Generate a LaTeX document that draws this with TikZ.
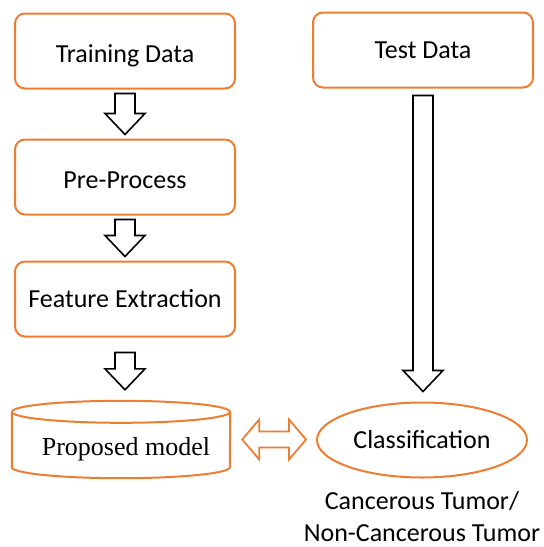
\documentclass[tikz,border=0pt]{standalone}
\usepackage{fontspec}
\setmainfont{Carlito}
\newfontfamily\modelfont{Liberation Serif}
\usepackage{tikz}
\usetikzlibrary{calc, positioning, shapes.geometric}
\definecolor{boxorange}{HTML}{ED7D31}

\newcommand{\blockarrow}[4]{%
  \draw[blockarr] let \p1=(#1.south), \p2=(#2.north) in
    (\x1-10pt,\y1-#3) -- (\x1+10pt,\y1-#3) -- (\x1+10pt,\y2+#4+21pt) -- (\x1+20pt,\y2+#4+21pt)
    -- (\x1,\y2+#4) -- (\x1-20pt,\y2+#4+21pt) -- (\x1-10pt,\y2+#4+21pt) -- cycle;}

\begin{document}
\begin{tikzpicture}[x=1pt, y=-1pt,
    every node/.style={font=\fontsize{26}{32}\selectfont},
    procbox/.style={rectangle, rounded corners=10pt, draw=boxorange, line width=2pt, fill=white, minimum width=220pt, minimum height=75pt, inner sep=0pt},
    lowtext/.style={text height=23pt, text depth=0pt},
    blockarr/.style={draw=black, line width=1.6pt, fill=white, miter limit=10},
    dblarr/.style={draw=boxorange, line width=1.8pt, fill=white},
    cyl/.style={draw=boxorange, line width=2pt}]
            \useasboundingbox (0,0) rectangle (544,547);

            \node[procbox, lowtext] at (125, 51)  (train) {Training Data};
            \node[procbox] at (423, 50)  (test)  {Test Data};
            \node[procbox, lowtext] at (125, 177) (pre)   {Pre-Process};
            \node[procbox] at (125, 299) (feat)  {Feature Extraction};
            \node[minimum width=218pt, minimum height=77pt, inner sep=0pt, text height=31pt, text depth=0pt, font=\modelfont\fontsize{26}{32}\selectfont] at (121, 439.5) (model) {\hspace*{10pt}Proposed model};
            \node[ellipse, draw=boxorange, line width=2pt, minimum width=210pt, minimum height=75pt, inner sep=0pt] at (422, 440) (cls) {Classification};
            \node[below=13pt of cls, align=center, inner sep=0pt] (result) {Cancerous Tumor/\\Non-Cancerous Tumor};

            \draw[cyl] ([yshift=-11pt]model.north) ellipse [x radius=109pt, y radius=11pt];
            \draw[cyl] ([yshift=-11pt]model.north west) -- ([yshift=11pt]model.south west)
                arc [start angle=180, end angle=360, x radius=109pt, y radius=11pt] -- ([yshift=-11pt]model.north east);

            \blockarrow{train}{pre}{4pt}{4pt}
            \blockarrow{pre}{feat}{4pt}{4pt}
            \blockarrow{feat}{model}{15pt}{11pt}
            \blockarrow{test}{cls}{7pt}{10pt}

            \draw[dblarr] let \p1=(model.east), \p2=(cls.west) in
                (\x1+12pt,\y1) -- (\x1+29pt,\y1+20pt) -- (\x1+29pt,\y1+8pt) -- (\x2-27pt,\y1+8pt)
                -- (\x2-27pt,\y1+20pt) -- (\x2-10pt,\y1) -- (\x2-27pt,\y1-20pt) -- (\x2-27pt,\y1-8pt)
                -- (\x1+29pt,\y1-8pt) -- (\x1+29pt,\y1-20pt) -- cycle;
        \end{tikzpicture}
\end{document}
